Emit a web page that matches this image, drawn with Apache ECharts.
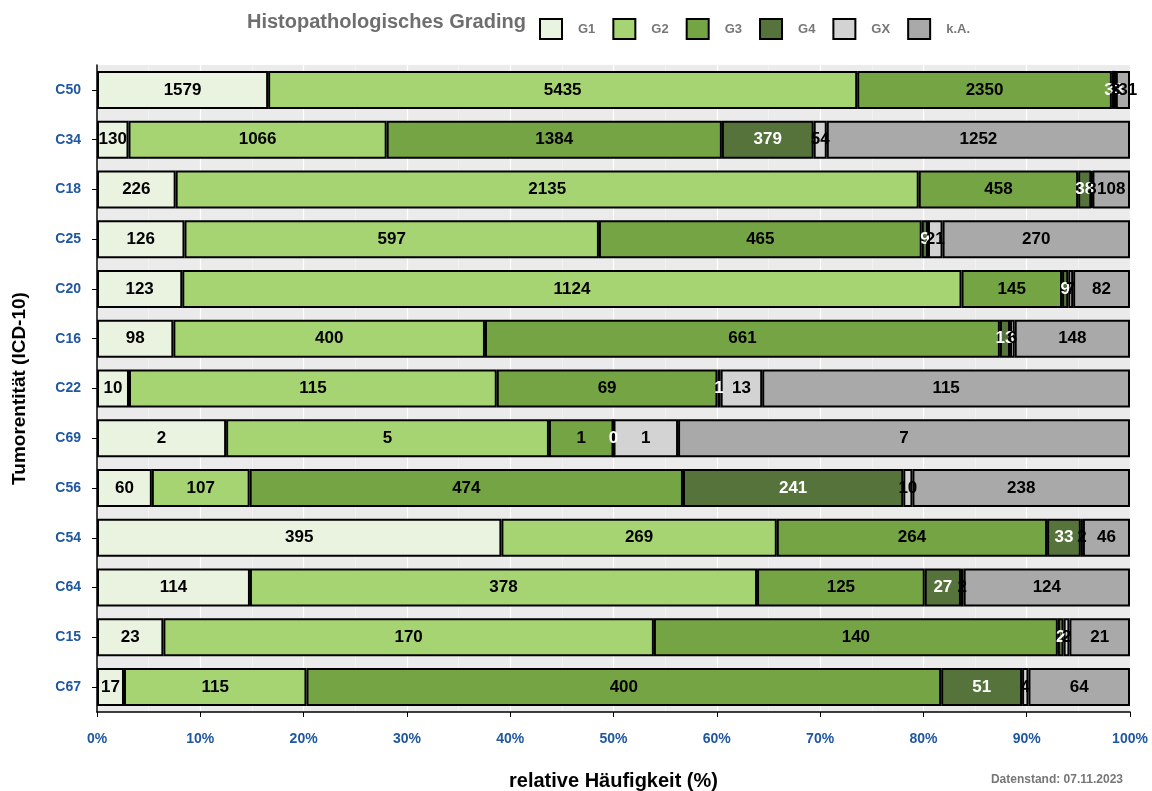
<!DOCTYPE html>
<html><head><meta charset="utf-8">
<script src="https://cdn.jsdelivr.net/npm/echarts@6/dist/echarts.min.js"></script>
<style>html,body{margin:0;padding:0;background:#fff}#c{width:1152px;height:791px}</style>
</head><body><div id="c"></div>
<script>
const categories = ['C50','C34','C18','C25','C20','C16','C22','C69','C56','C54','C64','C15','C67'];
const seriesNames = ['G1','G2','G3','G4','GX','k.A.'];
const G1 = [1579, 130, 226, 126, 123, 98, 10, 2, 60, 395, 114, 23, 17];
const G2 = [5435, 1066, 2135, 597, 1124, 400, 115, 5, 107, 269, 378, 170, 115];
const G3 = [2350, 1384, 458, 465, 145, 661, 69, 1, 474, 264, 125, 140, 400];
const G4 = [33, 379, 38, 9, 9, 13, 1, 0, 241, 33, 27, 2, 51];
const GX = [3, 54, 3, 21, 7, 6, 13, 1, 10, 2, 2, 2, 4];
const KA = [131, 1252, 108, 270, 82, 148, 115, 7, 238, 46, 124, 21, 64];
const xTicks = ['0%','10%','20%','30%','40%','50%','60%','70%','80%','90%','100%'];
const colors = ['#eaf3e0','#a6d472','#74a444','#55733a','#d3d3d3','#a9a9a9'];
const labelColors = ['#000','#000','#000','#fff','#000','#000'];
const raw = [G1,G2,G3,G4,GX,KA];
const totals = categories.map((c,i)=>raw.reduce((s,a)=>s+a[i],0));
const FONT = '"Liberation Sans", Arial, sans-serif';

const series = raw.map((arr,k)=>({
  name: seriesNames[k], type:'bar', stack:'all', barWidth:38,
  data: arr.map((v,i)=>({value: v/totals[i]*100, raw: v})),
  itemStyle:{color:colors[k], borderColor:'#000', borderWidth:2},
  label:{show:true, position:'inside', fontFamily:FONT, fontWeight:'bold', fontSize:17,
    color:labelColors[k], formatter:p=>String(p.data.raw)},
  emphasis:{disabled:true}
}));

const chart = echarts.init(document.getElementById('c'), null, {renderer:'canvas'});
chart.setOption({
  animation:false,
  textStyle:{fontFamily:FONT},
  grid:{left:97, right:22, top:65, bottom:79, backgroundColor:'#ebebeb', show:true, borderWidth:0,
    containLabel:false, outerBoundsMode:'none'},
  legend:{left:534, top:13, itemWidth:22, itemHeight:20, itemGap:17, icon:'rect',
    textStyle:{fontFamily:FONT, fontWeight:'bold', fontSize:13, color:'#777', padding:[0,0,0,11]},
    data: seriesNames},
  graphic:[
    {type:'text', left:247, top:12, style:{text:'Histopathologisches Grading', font:'bold 20px '+FONT, fill:'#6e6e6e'}},
    {type:'text', right:29, top:774, style:{text:'Datenstand: 07.11.2023', font:'bold 12px '+FONT, fill:'#777'}}
  ],
  xAxis:{type:'value', min:0, max:100, interval:10,
    name:'relative Häufigkeit (%)', nameLocation:'middle', nameGap:59,
    nameTextStyle:{fontFamily:FONT, fontWeight:'bold', fontSize:20, color:'#000'},
    axisLine:{show:true, lineStyle:{color:'#000', width:1.5}},
    axisTick:{show:true, length:5, lineStyle:{color:'#000'}},
    axisLabel:{color:'#1f57a0', fontWeight:'bold', fontSize:14, margin:20,
      formatter:v=>xTicks[Math.round(v/10)]},
    splitLine:{show:true, lineStyle:{color:'#fff', width:1.2}},
    minorTick:{show:false, splitNumber:2},
    minorSplitLine:{show:true, lineStyle:{color:'#f7f7f7', width:0.6}}
  },
  yAxis:{type:'category', data:categories, inverse:true,
    name:'Tumorentität (ICD-10)', nameLocation:'middle', nameGap:68, nameRotate:90,
    nameTextStyle:{fontFamily:FONT, fontWeight:'bold', fontSize:19, color:'#000'},
    axisLine:{show:true, lineStyle:{color:'#000', width:1.5}},
    axisTick:{show:true, alignWithLabel:true, length:5, lineStyle:{color:'#000'}},
    axisLabel:{color:'#1f57a0', fontWeight:'bold', fontSize:14, margin:16},
    splitLine:{show:false}
  },
  series: series
});
</script></body></html>
